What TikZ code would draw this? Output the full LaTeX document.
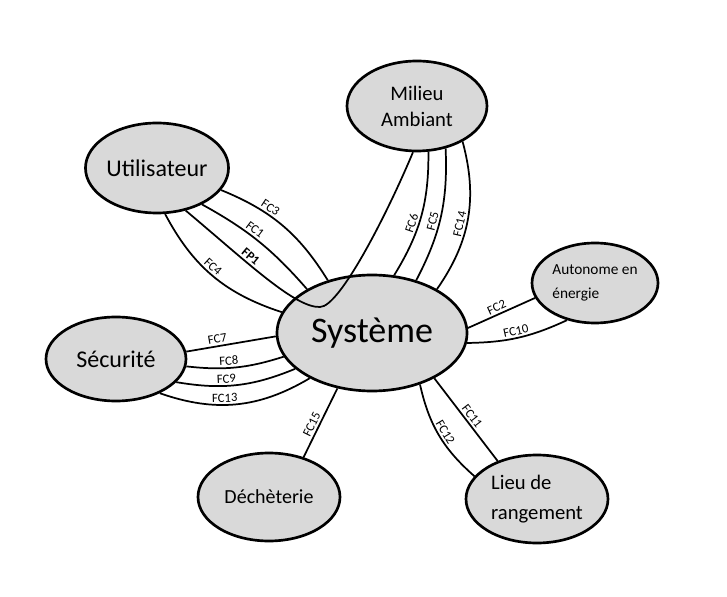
\documentclass[tikz,border=0pt]{standalone}
\usepackage{fontspec}
\setmainfont{Carlito}
\usetikzlibrary{shapes.geometric}

\definecolor{bubblegray}{RGB}{217,217,217}
\tikzset{
    bubble/.style={ellipse, draw, line width=2pt, fill=bubblegray, inner sep=0pt, align=center},
    link/.style={line width=1.3pt},
    tag/.style={font=\fontsize{9.5}{11}\selectfont, inner sep=1.5pt, sloped, above},
}

\begin{document}
\begin{tikzpicture}[x=0.75pt, y=0.75pt]
    \useasboundingbox (0,0) rectangle (727,596);

    % the elements round the system
    \node[bubble, minimum width=142.5pt, minimum height=87pt, font=\fontsize{27}{32}\selectfont] (sys) at (372,263) {Système};
    \node[bubble, minimum width=105pt, minimum height=67.5pt, font=\fontsize{18}{22}\selectfont] (util) at (157,428) {Utilisateur};
    \node[bubble, minimum width=105pt, minimum height=67.5pt, font=\fontsize{15.5}{19.5}\selectfont] (milieu) at (417,490) {Milieu\\Ambiant};
    \node[bubble, minimum width=94.5pt, minimum height=60pt] (auto) at (595,313) {};
    \node[align=left, inner sep=0pt, font=\fontsize{11.5}{18}\selectfont] (autotxt) at (595,313) {Autonome en\\énergie};
    \node[bubble, minimum width=105pt, minimum height=63pt, font=\fontsize{18}{22}\selectfont] (secu) at (116,237) {Sécurité};
    \node[bubble, minimum width=106.5pt, minimum height=66pt, font=\fontsize{15}{18}\selectfont] (dech) at (269,99) {Déchèterie};
    \node[bubble, minimum width=106.5pt, minimum height=66pt, align=left, font=\fontsize{15.5}{22.5}\selectfont] (lieu) at (537,97) {Lieu de\\rangement};

    % utilisateur
    \draw[link] (util.-19) to[bend left=18] node[tag, pos=0.35] (tFCthree) {FC3} (sys.130);
    \draw[link] (util.-39) to[bend left=10] node[tag, pos=0.42] (tFCone) {FC1} (sys.146);
    \draw[link] (util.-80) to[bend right=22] node[tag, pos=0.46] (tFCfour) {FC4} (sys.167);

    % FP1 goes through the system
    \coordinate (fpb) at (320,289);
    \draw[link] (util.-56) .. controls (247,334) and (295,288) .. (fpb)
        node[tag, pos=0.36, font=\fontsize{9.5}{11}\selectfont\bfseries] (tFPone) {FP1}
        .. controls (340,289) and (388,384) .. (milieu.-95);

    % milieu ambiant
    \draw[link] (milieu.-76) to[bend left=16] node[tag, pos=0.58] (tFCsix) {FC6} (sys.69);
    \draw[link] (milieu.-56) to[bend left=15] node[tag, pos=0.55] (tFCfive) {FC5} (sys.50);
    \draw[link] (milieu.-38) to[bend left=25] node[tag, pos=0.55] (tFCfourteen) {FC14} (sys.34);

    % securite
    \draw[link] (secu.6) -- node[tag, pos=0.36] (tFCseven) {FC7} (sys.182);
    \draw[link] (secu.-6) to[bend right=12] node[tag, pos=0.43] (tFCeight) {FC8} (sys.195);
    \draw[link] (secu.-21) to[bend right=16] node[tag, pos=0.41] (tFCnine) {FC9} (sys.205);
    \draw[link] (secu.-38) to[bend right=25] node[tag, pos=0.42] (tFCthirteen) {FC13} (sys.216);

    % autonome, dechets, rangement
    \draw[link] (auto.194) -- node[tag, pos=0.53] (tFCtwo) {FC2} (sys.3);
    \draw[link] (auto.233) to[bend left=12] node[tag, pos=0.51] (tFCten) {FC10} (sys.-6);
    \draw[link] (dech.49) -- node[tag, pos=0.43] (tFCfifteen) {FC15} (sys.238);
    \draw[link] (lieu.136) -- node[tag, pos=0.49] (tFCeleven) {FC11} (sys.324);
    \draw[link] (sys.313) to[bend right=18] node[tag, pos=0.51] (tFCtwelve) {FC12} (lieu.160);
\end{tikzpicture}
\end{document}
